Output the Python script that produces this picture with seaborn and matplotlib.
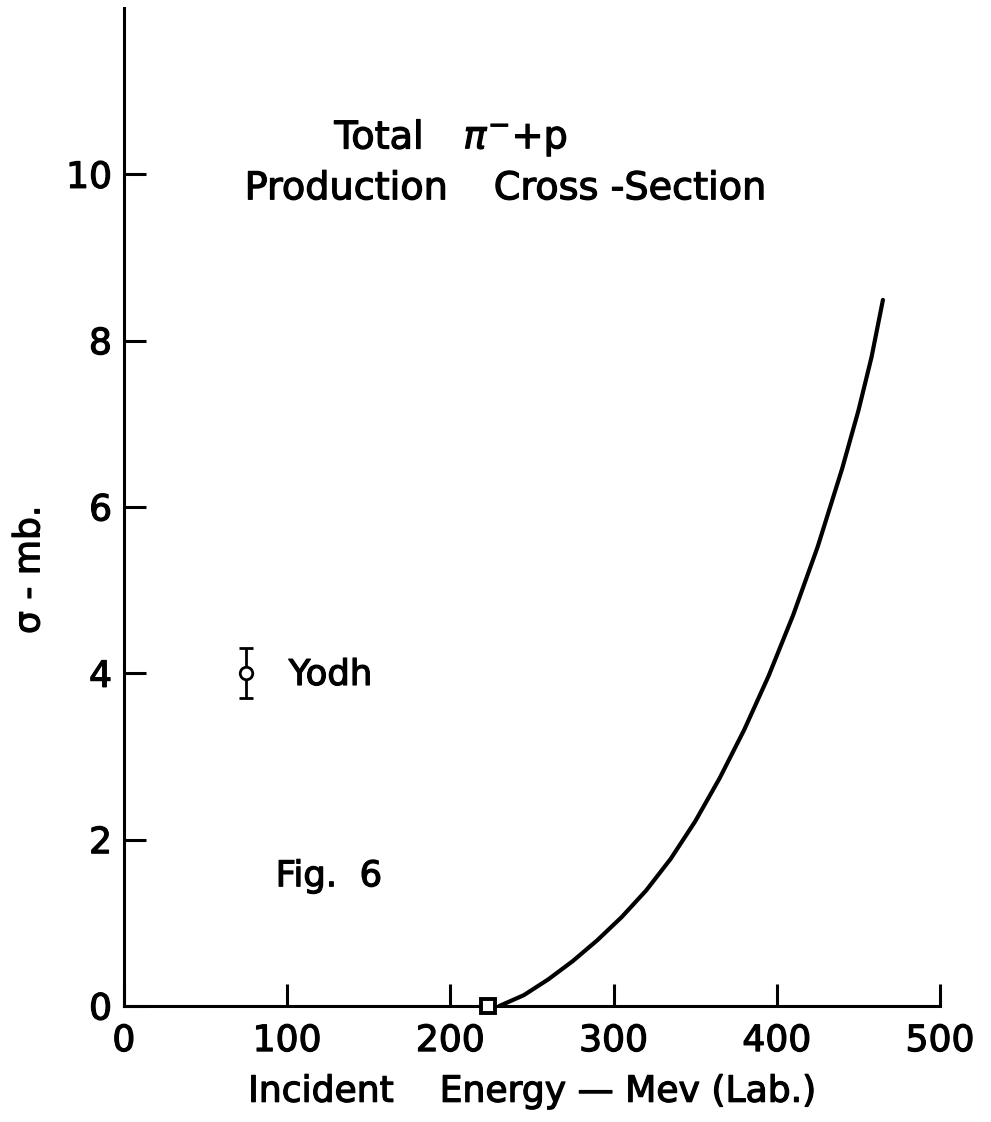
import matplotlib
matplotlib.use("Agg")
import matplotlib.pyplot as plt
import matplotlib.patheffects as pe
import seaborn as sns
import pandas as pd

# Data
curve_energy = [230, 245, 260, 275, 290, 305, 320, 335, 350, 365, 380, 395, 410, 425, 440, 450, 458, 465]
curve_sigma = [0.0, 0.13, 0.32, 0.54, 0.79, 1.07, 1.39, 1.77, 2.22, 2.74, 3.32, 3.97, 4.70, 5.52, 6.46, 7.16, 7.80, 8.49]
threshold_energy = [223]
threshold_sigma = [0.0]
yodh_energy = [75]
yodh_sigma = [4.0]
yodh_err = [0.3]
x_ticks = [0, 100, 200, 300, 400, 500]
y_ticks = [0, 2, 4, 6, 8, 10]

sns.set_style("ticks")
plt.rcParams['font.family'] = ['DejaVu Sans']
for k in ['text.color', 'axes.labelcolor', 'xtick.color', 'ytick.color', 'axes.edgecolor']:
    plt.rcParams[k] = 'black'

thick = [pe.withStroke(linewidth=0.9, foreground='black')]

fig = plt.figure(figsize=(9.91, 11.22), dpi=100)
ax = fig.add_axes([0.125, 0.1034, 0.8236, 0.8895])

df = pd.DataFrame({"E": curve_energy, "s": curve_sigma})
sns.lineplot(data=df, x="E", y="s", ax=ax, color="black", linewidth=3.0, sort=True)

ax.errorbar(yodh_energy, yodh_sigma, yerr=yodh_err, fmt='o', mfc='white', mec='black',
            ms=9, mew=2.0, ecolor='black', elinewidth=2.0, capsize=5, capthick=3, zorder=5)
ax.plot(threshold_energy, threshold_sigma, 's', mfc='white', mec='black', ms=10, mew=2.8,
        clip_on=False, zorder=6)

ax.set_xlim(0, 500)
ax.set_ylim(0, 12)
ax.set_xticks(x_ticks)
ax.set_yticks(y_ticks)
ax.tick_params(direction='in', length=16, width=2.2, labelsize=26, color='black')
ax.tick_params(axis='x', pad=13)
ax.tick_params(axis='y', pad=8.5)
for lab in ax.get_xticklabels() + ax.get_yticklabels():
    lab.set_path_effects(thick)
for s in ['top', 'right']:
    ax.spines[s].set_visible(False)
for s in ['left', 'bottom']:
    ax.spines[s].set_linewidth(2.2)
    ax.spines[s].set_color('black')

ax.set_xlabel("Incident    Energy \u2014 Mev (Lab.)", fontsize=26, labelpad=12,
              path_effects=thick)
ax.set_ylabel("\u03c3 - mb.", fontsize=26, path_effects=thick)
ax.yaxis.set_label_coords(-0.095, 0.437)

ax.text(129, 10.31, "Total", fontsize=27.5, ha='left', va='baseline', path_effects=thick)
ax.text(208, 10.31, "$\\pi^{-}$+p", fontsize=27.5, ha='left', va='baseline', path_effects=thick)
ax.text(74, 9.70, "Production", fontsize=27.5, ha='left', va='baseline', path_effects=thick)
ax.text(226.6, 9.70, "Cross -Section", fontsize=27.5, ha='left', va='baseline', path_effects=thick)
ax.text(101, 3.86, "Yodh", fontsize=25.5, ha='left', va='baseline', path_effects=thick)
ax.text(93, 1.44, "Fig.  6", fontsize=25.5, ha='left', va='baseline', path_effects=thick)

fig.savefig("out.png", dpi=100)
